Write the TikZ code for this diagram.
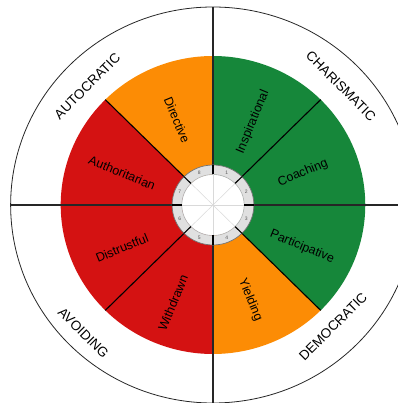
\documentclass[tikz,border=0pt]{standalone}
\usepackage{fontspec}
\setmainfont{Liberation Sans}

\begin{document}
\begin{tikzpicture}[x=1pt,y=1pt,xscale=1.022,
  sectorlabel/.style={font=\fontsize{12.5}{14}\selectfont,text=black,inner sep=0pt},
  stylelabel/.style={font=\fontsize{13.5}{15}\selectfont,inner sep=0pt},
  ringnum/.style={font=\fontsize{5}{6}\selectfont,text=black!65,inner sep=0pt}]
% Define colours
\definecolor{leadgreen}{RGB}{22,135,58}
\definecolor{leadorange}{RGB}{252,140,5}
\definecolor{leadred}{RGB}{212,18,18}

% Frame of the picture
\clip (-208.4,-198) rectangle (181,205);

% Outer circle
\draw[black!85,line width=0.8pt] (0,0) circle (198);

% Coloured sectors
\fill[leadgreen] (0,0) -- (90:149) arc[start angle=90,end angle=45,radius=149] -- cycle;
\fill[leadgreen] (0,0) -- (45:149) arc[start angle=45,end angle=0,radius=149] -- cycle;
\fill[leadgreen] (0,0) -- (0:149) arc[start angle=0,end angle=-45,radius=149] -- cycle;
\fill[leadorange] (0,0) -- (-45:149) arc[start angle=-45,end angle=-90,radius=149] -- cycle;
\fill[leadred] (0,0) -- (-90:149) arc[start angle=-90,end angle=-135,radius=149] -- cycle;
\fill[leadred] (0,0) -- (-135:149) arc[start angle=-135,end angle=-180,radius=149] -- cycle;
\fill[leadred] (0,0) -- (180:149) arc[start angle=180,end angle=135,radius=149] -- cycle;
\fill[leadorange] (0,0) -- (135:149) arc[start angle=135,end angle=90,radius=149] -- cycle;

% Axes through the whole wheel
\draw[black!85,line width=1.1pt] (90:198) -- (-90:198);
\draw[black!85,line width=1.1pt] (180:198) -- (0:230);

% Diagonal borders
\draw[black,line width=1.1pt] (45:30) -- (45:149);
\draw[black,line width=1.1pt] (-45:30) -- (-45:149);
\draw[black,line width=1.1pt] (-135:30) -- (-135:149);
\draw[black,line width=1.1pt] (135:30) -- (135:149);

% Centre ring with numbers
\fill[black!12,even odd rule] (0,0) circle (40) (0,0) circle (30.5);
\fill[white] (0,0) circle (30.5);
\draw[black!55,line width=0.7pt] (0,0) circle (40);
\draw[black!30,line width=0.6pt] (0,0) circle (30.5);
\foreach \a in {0,45,...,315}
  \draw[black!15,line width=0.5pt] (0,0) -- (\a:30.5);
\foreach \a in {0,45,...,315}
  \draw[black,line width=1.1pt] (\a:30.5) -- (\a:40);
\node[ringnum] (n1) at (67.5:35.3) {1};
\node[ringnum] (n2) at (22.5:35.3) {2};
\node[ringnum] (n3) at (-22.5:35.3) {3};
\node[ringnum] (n4) at (-67.5:35.3) {4};
\node[ringnum] (n5) at (-112.5:35.3) {5};
\node[ringnum] (n6) at (-157.5:35.3) {6};
\node[ringnum] (n7) at (157.5:35.3) {7};
\node[ringnum] (n8) at (112.5:35.3) {8};

% Sector labels
\node[sectorlabel,rotate=67.5] (inspirational) at (64.8:91.8) {Inspirational};
\node[sectorlabel,rotate=22.5] (coaching) at (20:93.7) {Coaching};
\node[sectorlabel,rotate=-22.5] (participative) at (-25.7:96.7) {Participative};
\node[sectorlabel,rotate=-67.5] (yielding) at (-69:101.7) {Yielding};
\node[sectorlabel,rotate=67.5] (withdrawn) at (-111.8:105.5) {Withdrawn};
\node[sectorlabel,rotate=22.5] (distrustful) at (-154.2:98.9) {Distrustful};
\node[sectorlabel,rotate=-22.5] (authoritarian) at (160:94.6) {Authoritarian};
\node[sectorlabel,rotate=-67.5] (directive) at (112.5:92) {Directive};

% Style labels in the outer ring
\node[stylelabel,rotate=45] (autocratic) at (136:171) {AUTOCRATIC};
\node[stylelabel,rotate=-45] (charismatic) at (43.5:172.7) {CHARISMATIC};
\node[stylelabel,rotate=45] (democratic) at (-46:169) {DEMOCRATIC};
\node[stylelabel,rotate=-45] (avoiding) at (-134.8:180) {AVOIDING};
\end{tikzpicture}
\end{document}
